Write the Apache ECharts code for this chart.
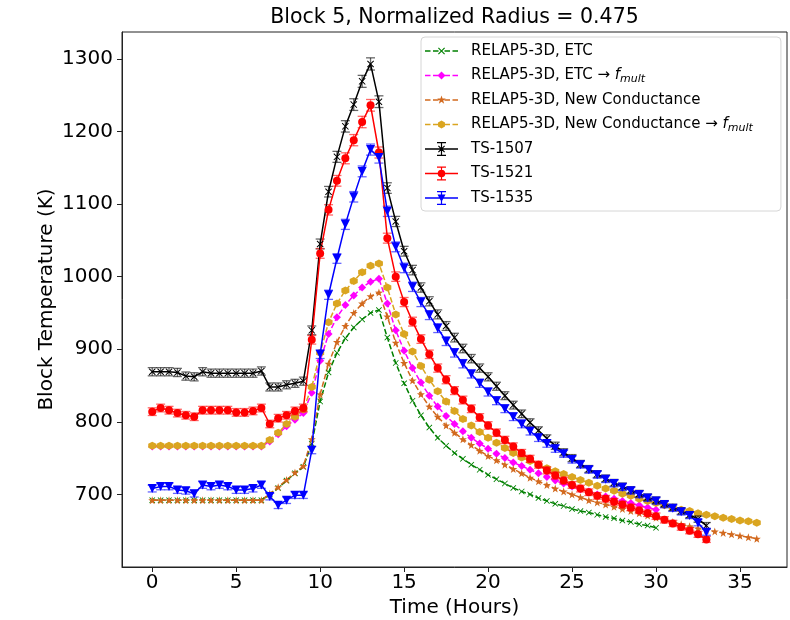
<!DOCTYPE html>
<html><head><meta charset="utf-8">
<script src="https://cdn.jsdelivr.net/npm/echarts@6/dist/echarts.min.js"></script>
<style>html,body{margin:0;padding:0;background:#fff}#c{width:790px;height:620px}</style>
</head><body><div id="c"></div>
<script>
// ---------- data ----------
const HOURS = [0,0.5,1,1.5,2,2.5,3,3.5,4,4.5,5,5.5,6,6.5,7,7.5,8,8.5,9,9.5,10,10.5,11,11.5,12,12.5,13,13.5,14,14.5,15,15.5,16,16.5,17,17.5,18,18.5,19,19.5,20,20.5,21,21.5,22,22.5,23,23.5,24,24.5,25,25.5,26,26.5,27,27.5,28,28.5,29,29.5,30,30.5,31,31.5,32,32.5,33,33.5,34,34.5,35,35.5,36];

const ETC = [692,692,692,692,692,692,692,692,692,692,692,692,692,692,
  700,709,719,729,738,770,828,868,895,915,930,941,950,954,916,881,853,829,809,792,778,767,757,749,741,734,727,721,715,709,704,700,695,691,687,684,680,677,675,672,669,667,664,662,659,657,654];
const ETC_FMULT = [766,766,766,766,766,766,766,766,766,766,766,766,766,766,
  773,783,794,803,812,840,884,921,944,961,974,985,993,997,963,926,898,874,854,836,821,808,797,787,778,770,763,756,750,744,739,734,729,724,719,715,711,707,704,700,697,694,691,688,685,682,679];
const NEWCOND = [692,692,692,692,692,692,692,692,692,692,692,692,692,692,
  701,710,720,730,739,776,838,880,910,932,950,963,973,978,945,909,881,857,838,821,807,795,785,776,768,760,753,747,741,735,729,723,718,713,708,704,700,696,692,689,686,683,680,677,674,671,668,665,662,659,656,653,651,649,647,645,643,641,639,638,637];
const NEWCOND_FMULT = [767,767,767,767,767,767,767,767,767,767,767,767,767,767,
  775,785,797,807,817,848,895,937,963,981,994,1006,1015,1018,985,948,921,897,877,858,842,828,815,804,795,786,778,771,764,757,751,746,741,736,732,728,724,720,716,712,708,705,701,698,694,691,688,685,682,679,677,674,672,670,668,666,664,663,661,660,659];
const TS1507 = [869,869,869,868,863,862,869,867,867,867,867,867,867,870,
  848,848,851,853,856,926,1045,1117,1165,1207,1237,1269,1293,1241,1122,1076,1035,1009,985,966,948,932,916,901,887,874,862,849,836,823,811,799,788,777,767,758,750,742,735,728,722,716,711,706,701,696,692,687,682,677,672,666,657];
const TS1521 = [814,819,816,812,809,807,816,816,816,816,813,813,815,819,
  797,805,809,815,819,913,1032,1092,1132,1163,1188,1213,1236,1171,1053,1000,965,938,914,893,874,858,843,830,818,806,795,785,775,766,757,749,741,733,726,719,713,708,703,698,694,690,686,682,678,674,670,665,660,655,650,645,638];
const TS1535 = [708,711,711,706,705,701,713,711,713,711,706,706,708,713,
  697,685,692,699,699,761,893,975,1025,1072,1110,1145,1175,1164,1090,1041,1012,986,965,947,929,911,895,880,866,853,841,829,818,807,797,787,778,770,763,756,748,741,734,727,721,715,710,705,700,695,691,686,681,676,671,661,648];
const REL_ERR = 0.0065;   // measurement uncertainty (fraction of value)

const X_TICKS = [0,5,10,15,20,25,30,35];
const Y_TICKS = [700,800,900,1000,1100,1200,1300];

const TITLE = 'Block 5, Normalized Radius = 0.475';
const X_NAME = 'Time (Hours)';
const Y_NAME = 'Block Temperature (K)';

// ---------- helpers ----------
function pairs(vals){ return vals.map((v,i)=>[HOURS[i], v]); }
function errData(vals){ return vals.map((v,i)=>[HOURS[i], v - v*REL_ERR, v + v*REL_ERR]); }

const FONT = 'DejaVu Sans';
const X_SYM = 'path://M0,1L1,0L5,4L9,0L10,1L6,5L10,9L9,10L5,6L1,10L0,9L4,5Z';
const STAR_SYM = 'path://M10,0L12.35,6.76L19.51,6.91L13.8,11.24L15.88,18.09L10,14L4.12,18.09L6.2,11.24L0.49,6.91L7.65,6.76Z';
const HEX_SYM = 'path://M5,0L9.33,2.5L9.33,7.5L5,10L0.67,7.5L0.67,2.5Z';

// legend icons (box 33 x 14)
const CORNERS = 'M0,0L0.01,0L0.01,0.01L0,0.01ZM32.99,13.99L33,13.99L33,14L32.99,14Z';
const DASHES = 'M0,6.25L5.5,6.25L5.5,7.75L0,7.75ZM8,6.25L13.5,6.25L13.5,7.75L8,7.75ZM19.5,6.25L25,6.25L25,7.75L19.5,7.75ZM27.5,6.25L33,6.25L33,7.75L27.5,7.75Z';
const SOLID = 'M0,6.25L33,6.25L33,7.75L0,7.75Z';
const EBAR = 'M15.9,0L17.1,0L17.1,14L15.9,14ZM12,0L21,0L21,1.2L12,1.2ZM12,12.8L21,12.8L21,14L12,14Z';
const MK_X = 'M13,4.3L13.8,3.5L16.5,6.2L19.2,3.5L20,4.3L17.3,7L20,9.7L19.2,10.5L16.5,7.8L13.8,10.5L13,9.7L15.7,7Z';
const MK_DIA = 'M16.5,3L20.5,7L16.5,11L12.5,7Z';
const MK_STAR = 'M16.5,2.5L17.56,5.54L20.78,5.61L18.21,7.56L19.15,10.64L16.5,8.8L13.85,10.64L14.79,7.56L12.22,5.61L15.44,5.54Z';
const MK_HEX = 'M16.5,3L19.96,5L19.96,9L16.5,11L13.04,9L13.04,5Z';
const MK_CIRC = 'M12.7,7A3.8,3.8 0 1 1 20.3,7A3.8,3.8 0 1 1 12.7,7Z';
const MK_TRI = 'M12.5,3.5L20.5,3.5L16.5,11Z';
function icon(){ return 'path://' + CORNERS + Array.prototype.join.call(arguments, ''); }

const N_ETC = 'RELAP5-3D, ETC';
const N_ETCF = 'RELAP5-3D, ETC \u2192 fmult';
const N_NC = 'RELAP5-3D, New Conductance';
const N_NCF = 'RELAP5-3D, New Conductance \u2192 fmult';
const LEGEND_TEXT = {};
LEGEND_TEXT[N_ETC] = N_ETC;
LEGEND_TEXT[N_ETCF] = 'RELAP5-3D, ETC \u2192 {f|f}{sub|mult}';
LEGEND_TEXT[N_NC] = N_NC;
LEGEND_TEXT[N_NCF] = 'RELAP5-3D, New Conductance \u2192 {f|f}{sub|mult}';
LEGEND_TEXT['TS-1507'] = 'TS-1507';
LEGEND_TEXT['TS-1521'] = 'TS-1521';
LEGEND_TEXT['TS-1535'] = 'TS-1535';

function relapSeries(name, vals, color, symbol, size){
  return { name, type:'line', data: pairs(vals), symbol, symbolSize: size, showSymbol:true,
    lineStyle:{color, width:1.5, type:[5.5,2.4]}, itemStyle:{color}, z:2, animation:false };
}
function tsSeries(name, vals, color, symbol, size, rot){
  return { name, type:'line', data: pairs(vals), symbol, symbolSize: size, symbolRotate: rot||0, showSymbol:true,
    lineStyle:{color, width:1.5}, itemStyle:{color}, z:3, animation:false };
}
function errSeries(vals, color){
  return { type:'custom', silent:true, z:3, animation:false, data: errData(vals),
    encode:{x:0, y:[1,2]},
    renderItem: function(params, api){
      const x = api.value(0);
      const lo = api.coord([x, api.value(1)]);
      const hi = api.coord([x, api.value(2)]);
      const hw = 4.5;
      const st = {stroke: color, lineWidth: 1.3, opacity: 0.6};
      return {type:'group', children:[
        {type:'line', shape:{x1:lo[0], y1:lo[1], x2:hi[0], y2:hi[1]}, style: st},
        {type:'line', shape:{x1:lo[0]-hw, y1:lo[1], x2:lo[0]+hw, y2:lo[1]}, style: st},
        {type:'line', shape:{x1:hi[0]-hw, y1:hi[1], x2:hi[0]+hw, y2:hi[1]}, style: st}
      ]};
    }
  };
}

const chart = echarts.init(document.getElementById('c'), null, {renderer:'canvas'});
chart.setOption({
  animation:false,
  backgroundColor:'#fff',
  textStyle:{fontFamily:FONT},
  grid:{left:122, right:3, top:32, bottom:53, show:true, borderColor:'#222', borderWidth:1, backgroundColor:'transparent',
    containLabel:false, outerBoundsMode:'none'},
  graphic:[
    {type:'text', x:454.5, y:7, style:{text:TITLE, fontFamily:FONT, fontSize:20.5, fill:'#000', textAlign:'center'}},
    {type:'text', x:46.5, y:299.5, rotation:Math.PI/2,
      style:{text:Y_NAME, fontFamily:FONT, fontSize:20, fill:'#000', textAlign:'center', textVerticalAlign:'middle'}}
  ],
  xAxis:{type:'value', min:-1.8, max:37.8,
    name:X_NAME, nameLocation:'middle', nameGap:30, nameTextStyle:{fontFamily:FONT, fontSize:20, color:'#000'},
    axisLine:{show:true, onZero:false, lineStyle:{color:'#222', width:1}},
    axisTick:{show:true, length:5, lineStyle:{color:'#222'}, customValues:X_TICKS},
    axisLabel:{fontFamily:FONT, fontSize:20, color:'#000', margin:6, customValues:X_TICKS, formatter: v => String(v)},
    splitLine:{show:false}},
  yAxis:{type:'value', min:600, max:1337,
    axisLine:{show:true, onZero:false, lineStyle:{color:'#222', width:1}},
    axisTick:{show:true, length:5, lineStyle:{color:'#222'}, customValues:Y_TICKS},
    axisLabel:{fontFamily:FONT, fontSize:20, color:'#000', margin:9, customValues:Y_TICKS, formatter: v => String(v)},
    splitLine:{show:false}},
  legend:{orient:'vertical', left:421, top:37, padding:[5,28,4,4],
    itemWidth:33, itemHeight:14, itemGap:6.5,
    borderColor:'#d6d6d6', borderWidth:1, borderRadius:4, backgroundColor:'rgba(255,255,255,0.85)',
    textStyle:{fontFamily:FONT, fontSize:15, color:'#000', lineHeight:18, padding:[0,0,0,8],
      rich:{ f:{fontFamily:FONT, fontSize:15, fontStyle:'italic', color:'#000', lineHeight:18},
             sub:{fontFamily:FONT, fontSize:11, fontStyle:'italic', color:'#000', lineHeight:11, padding:[7,0,0,0]} }},
    formatter: function(n){ return LEGEND_TEXT[n]; },
    data:[
      {name:N_ETC, icon: icon(DASHES, MK_X)},
      {name:N_ETCF, icon: icon(DASHES, MK_DIA)},
      {name:N_NC, icon: icon(DASHES, MK_STAR)},
      {name:N_NCF, icon: icon(DASHES, MK_HEX)},
      {name:'TS-1507', icon: icon(SOLID, EBAR, MK_X)},
      {name:'TS-1521', icon: icon(SOLID, EBAR, MK_CIRC)},
      {name:'TS-1535', icon: icon(SOLID, EBAR, MK_TRI)}
    ]},
  series:[
    relapSeries(N_ETC, ETC, '#008000', X_SYM, 6),
    relapSeries(N_ETCF, ETC_FMULT, '#ff00ff', 'diamond', 8),
    relapSeries(N_NC, NEWCOND, '#d2691e', STAR_SYM, 8),
    relapSeries(N_NCF, NEWCOND_FMULT, '#daa520', HEX_SYM, 8),
    errSeries(TS1507, '#000000'),
    tsSeries('TS-1507', TS1507, '#000000', X_SYM, 7),
    errSeries(TS1521, '#ff0000'),
    tsSeries('TS-1521', TS1521, '#ff0000', 'circle', 8),
    errSeries(TS1535, '#0000ff'),
    tsSeries('TS-1535', TS1535, '#0000ff', 'triangle', 9, 180)
  ]
});
</script>
</body></html>
